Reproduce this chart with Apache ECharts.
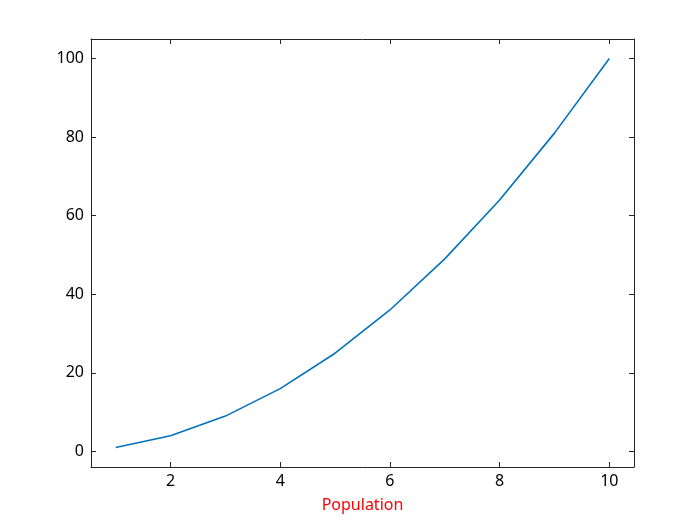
<!DOCTYPE html>
<html>
<head>
<meta charset="utf-8">
<script src="https://cdn.jsdelivr.net/npm/echarts@6/dist/echarts.min.js"></script>
<style>html,body{margin:0;padding:0;background:#fff;}#c{width:700px;height:525px;}</style>
</head>
<body>
<div id="c"></div>
<script>
var xValues = [1, 2, 3, 4, 5, 6, 7, 8, 9, 10];
var yValues = [1, 4, 9, 16, 25, 36, 49, 64, 81, 100];
var xTicks = [2, 4, 6, 8, 10];
var yTicks = [0, 20, 40, 60, 80, 100];
var xLabel = 'Population';

var data = xValues.map(function (x, i) { return [x, yValues[i]]; });
var font = '"Noto Sans", "DejaVu Sans", sans-serif';
var axisLine = { show: true, onZero: false, lineStyle: { color: '#262626', width: 1 } };

function xa(pos, showLabel) {
  return {
    type: 'value', position: pos, min: 0.55, max: 10.45,
    axisLine: axisLine,
    axisTick: { show: true, inside: true, length: 5, customValues: xTicks, lineStyle: { color: '#262626' } },
    axisLabel: { show: showLabel, customValues: xTicks, color: '#000', fontSize: 16, fontFamily: font, margin: 6 },
    splitLine: { show: false },
    name: showLabel ? xLabel : '',
    nameLocation: 'middle', nameGap: 30,
    nameTextStyle: { color: '#ff0000', fontSize: 16, fontFamily: font }
  };
}
function ya(pos, showLabel) {
  return {
    type: 'value', position: pos, min: -3.95, max: 104.95,
    axisLine: axisLine,
    axisTick: { show: true, inside: true, length: 5, customValues: yTicks, lineStyle: { color: '#262626' } },
    axisLabel: { show: showLabel, customValues: yTicks, color: '#000', fontSize: 16, fontFamily: font, margin: 7 },
    splitLine: { show: false }
  };
}

var chart = echarts.init(document.getElementById('c'), null, { renderer: 'canvas' });
chart.setOption({
  backgroundColor: '#fff',
  animation: false,
  grid: { left: 91, top: 39, right: 66, bottom: 58, containLabel: false },
  xAxis: [xa('bottom', true), xa('top', false)],
  yAxis: [ya('left', true), ya('right', false)],
  series: [{
    type: 'line', data: data, xAxisIndex: 0, yAxisIndex: 0,
    showSymbol: false, symbol: 'none',
    lineStyle: { color: '#0072BD', width: 1.6 }
  }]
});
</script>
</body>
</html>
